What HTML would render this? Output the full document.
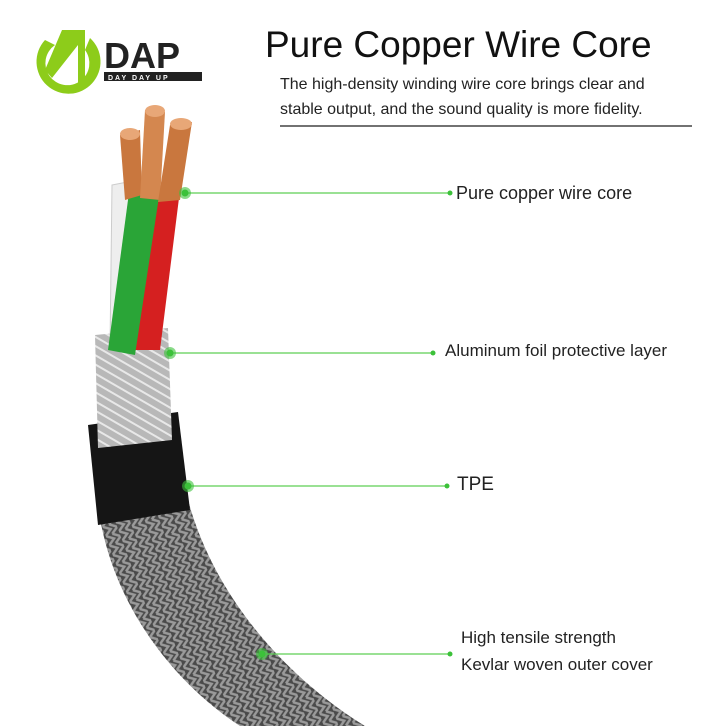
<!DOCTYPE html>
<html><head><style>
body{margin:0;width:726px;height:726px;background:#fff;overflow:hidden;position:relative;font-family:"Liberation Sans",sans-serif}
.t{position:absolute;color:#222}
</style></head><body>
<svg width="726" height="726" style="position:absolute;left:0;top:0">
<defs>
<pattern id="br" width="14" height="10" patternUnits="userSpaceOnUse" patternTransform="rotate(-20)">
<rect width="14" height="10" fill="#4a4a4a"/>
<path d="M0 0 L7 5 L0 10 M7 0 L14 5 L7 10" stroke="#9a9a9a" stroke-width="2.5" fill="none"/>
</pattern>
<pattern id="fo" width="8" height="8" patternUnits="userSpaceOnUse" patternTransform="rotate(30)">
<rect width="8" height="8" fill="#b8b8b8"/>
<path d="M0 4 L8 4" stroke="#e8e8e8" stroke-width="2"/>
</pattern>
</defs>
<!-- logo -->
<path d="M62 30 L85 30 L85 85 L78 85 L78 45 L52 78 L45 70 Z" fill="#8dcc1a"/>
<path d="M45 40 A32 32 0 1 0 90 38 L85 50 A22 22 0 1 1 55 45 Z" fill="#8dcc1a"/>
<text x="104" y="68" font-family="Liberation Sans" font-weight="bold" font-size="36" fill="#222">DAP</text>
<rect x="104" y="72" width="98" height="9" fill="#222"/>
<text x="108" y="80" font-size="7" fill="#fff" font-weight="bold" letter-spacing="2">DAY DAY UP</text>
<!-- braid -->
<path d="M98 505 C110 600 170 680 240 726 L365 726 C290 680 215 600 188 500 Z" fill="url(#br)"/>
<!-- TPE -->
<path d="M88 425 L178 412 L190 510 L98 525 Z" fill="#151515"/>
<!-- foil -->
<path d="M95 335 L168 328 L172 440 L98 448 Z" fill="url(#fo)"/>
<!-- wires -->
<path d="M140 190 L158 190 L160 345 L140 345 Z" fill="#3b7fd6"/>
<path d="M112 185 L138 180 L135 345 L110 348 Z" fill="#eee" stroke="#ccc"/>
<path d="M150 185 L180 190 L160 350 L130 350 Z" fill="#d52020"/>
<path d="M130 185 L160 190 L135 355 L108 350 Z" fill="#2aa537"/>
<!-- copper -->
<path d="M120 135 L140 130 L142 195 L125 200 Z" fill="#c9773e"/>
<path d="M145 110 L165 112 L160 200 L140 198 Z" fill="#d4874f"/>
<path d="M170 125 L192 122 L180 200 L158 202 Z" fill="#c9773e"/>
<ellipse cx="130" cy="134" rx="10" ry="6" fill="#e8a777"/>
<ellipse cx="155" cy="111" rx="10" ry="6" fill="#e8a777"/>
<ellipse cx="181" cy="124" rx="11" ry="6" fill="#e8a777"/>
<!-- lines -->
<g stroke="#5dcf55" stroke-width="1.2">
<line x1="185" y1="193" x2="450" y2="193"/>
<line x1="170" y1="353" x2="433" y2="353"/>
<line x1="188" y1="486" x2="447" y2="486"/>
<line x1="262" y1="654" x2="450" y2="654"/>
</g>
<g fill="#3cc13a">
<circle cx="185" cy="193" r="6" opacity=".6"/><circle cx="185" cy="193" r="3.5"/>
<circle cx="170" cy="353" r="6" opacity=".6"/><circle cx="170" cy="353" r="3.5"/>
<circle cx="188" cy="486" r="6" opacity=".6"/><circle cx="188" cy="486" r="3.5"/>
<circle cx="262" cy="654" r="6" opacity=".6"/><circle cx="262" cy="654" r="3.5"/>
<circle cx="450" cy="193" r="2.5"/><circle cx="433" cy="353" r="2.5"/><circle cx="447" cy="486" r="2.5"/><circle cx="450" cy="654" r="2.5"/>
</g>
<line x1="280" y1="126" x2="692" y2="126" stroke="#444" stroke-width="1.5"/>
</svg>
<div class="t" style="left:265px;top:24px;font-size:37px;color:#111">Pure Copper Wire Core</div>
<div class="t" style="left:280px;top:72px;font-size:16px;line-height:25px;color:#222">The high-density winding wire core brings clear and<br>stable output, and the sound quality is more fidelity.</div>
<div class="t" style="left:456px;top:183px;font-size:18px">Pure copper wire core</div>
<div class="t" style="left:445px;top:341px;font-size:17px">Aluminum foil protective layer</div>
<div class="t" style="left:457px;top:474px;font-size:19px">TPE</div>
<div class="t" style="left:461px;top:624px;font-size:17px;line-height:27px">High tensile strength<br>Kevlar woven outer cover</div>
</body></html>
